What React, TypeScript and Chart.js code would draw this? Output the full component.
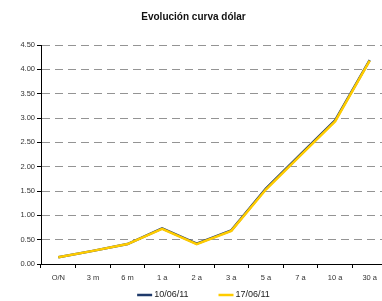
import React, { useEffect, useRef } from "react";
import { Chart, registerables } from "chart.js";

Chart.register(...registerables);

const title = "Evolución curva dólar";
const categories = ["O/N", "3 m", "6 m", "1 a", "2 a", "3 a", "5 a", "7 a", "10 a", "30 a"];
const seriesNames = ["10/06/11", "17/06/11"];
const values1006 = [0.14, 0.27, 0.41, 0.73, 0.42, 0.69, 1.55, 2.25, 2.95, 4.19];
const values1706 = [0.14, 0.27, 0.41, 0.72, 0.41, 0.68, 1.53, 2.23, 2.93, 4.18];
const yTicks = [0, 0.5, 1, 1.5, 2, 2.5, 3, 3.5, 4, 4.5];

const BLUE = "#1F3A6B";
const YELLOW = "#FFCC00";
const FONT = "Arial, 'Liberation Sans', sans-serif";

const legendPlugin = {
  id: "lineLegend",
  afterDraw(chart: any) {
    const ctx = chart.ctx;
    const ds = chart.data.datasets;
    ctx.save();
    ctx.font = `9px ${FONT}`;
    const lineW = 15;
    const gapText = 2;
    const gapItem = 30;
    const widths = ds.map((d: any) => ctx.measureText(d.label).width);
    let total = 0;
    widths.forEach((w: number, i: number) => {
      total += lineW + gapText + w + (i < widths.length - 1 ? gapItem : 0);
    });
    let x = chart.width / 2 - total / 2;
    const y = 295;
    ds.forEach((d: any, i: number) => {
      ctx.strokeStyle = d.borderColor;
      ctx.lineWidth = 2.5;
      ctx.beginPath();
      ctx.moveTo(x, y);
      ctx.lineTo(x + lineW, y);
      ctx.stroke();
      ctx.fillStyle = "#222";
      ctx.textBaseline = "middle";
      ctx.textAlign = "left";
      ctx.fillText(d.label, x + lineW + gapText, y);
      x += lineW + gapText + widths[i] + gapItem;
    });
    ctx.restore();
  },
};

export default function App() {
  const ref = useRef<HTMLCanvasElement | null>(null);
  useEffect(() => {
    if (!ref.current) return;
    const chart = new Chart(ref.current, {
      type: "line",
      data: {
        labels: categories,
        datasets: [
          {
            label: seriesNames[0],
            data: values1006,
            borderColor: BLUE,
            backgroundColor: BLUE,
            borderWidth: 2.5,
            pointRadius: 0,
            tension: 0,
            order: 2,
          },
          {
            label: seriesNames[1],
            data: values1706,
            borderColor: YELLOW,
            backgroundColor: YELLOW,
            borderWidth: 2.5,
            pointRadius: 0,
            tension: 0,
            order: 1,
          },
        ],
      },
      options: {
        responsive: false,
        animation: false,
        layout: { padding: { left: 0, right: 20, top: 0, bottom: 0 } },
        plugins: {
          legend: { display: false },
          tooltip: { enabled: false },
          title: {
            display: true,
            text: title,
            color: "#111",
            font: { family: FONT, size: 10, weight: "bold" },
            padding: { top: 11, bottom: 22 },
          },
        },
        scales: {
          x: {
            type: "category",
            offset: true,
            afterFit: (s: any) => {
              s.height = 37;
            },
            grid: {
              display: true,
              drawOnChartArea: false,
              drawTicks: true,
              offset: true,
              tickLength: 4,
              tickColor: "#000",
              tickWidth: 1,
            },
            border: { display: true, color: "#000", width: 1 },
            ticks: {
              color: "#333",
              font: { family: FONT, size: 7.5 },
              padding: 5,
              maxRotation: 0,
              autoSkip: false,
            },
          },
          y: {
            min: 0,
            max: 4.5,
            afterFit: (s: any) => {
              s.width = 41;
            },
            afterBuildTicks: (s: any) => {
              s.ticks = yTicks.map((v) => ({ value: v }));
            },
            grid: {
              color: "#949494",
              lineWidth: 1,
              drawTicks: true,
              tickLength: 4,
              tickColor: "#000",
              tickBorderDash: [],
            },
            border: { display: true, color: "#000", width: 1, dash: [8, 5] },
            ticks: {
              color: "#333",
              font: { family: FONT, size: 7.5 },
              padding: 2,
              callback: (v: any) => Number(v).toFixed(2),
            },
          },
        },
      },
      plugins: [legendPlugin],
    });
    return () => chart.destroy();
  }, []);
  return (
    <div
      style={{
        position: "absolute",
        left: 0,
        top: 0,
        width: 382,
        height: 301,
        overflow: "hidden",
        background: "#fff",
      }}
    >
      <canvas ref={ref} width={407} height={301} style={{ width: 407, height: 301, display: "block" }} />
    </div>
  );
}
